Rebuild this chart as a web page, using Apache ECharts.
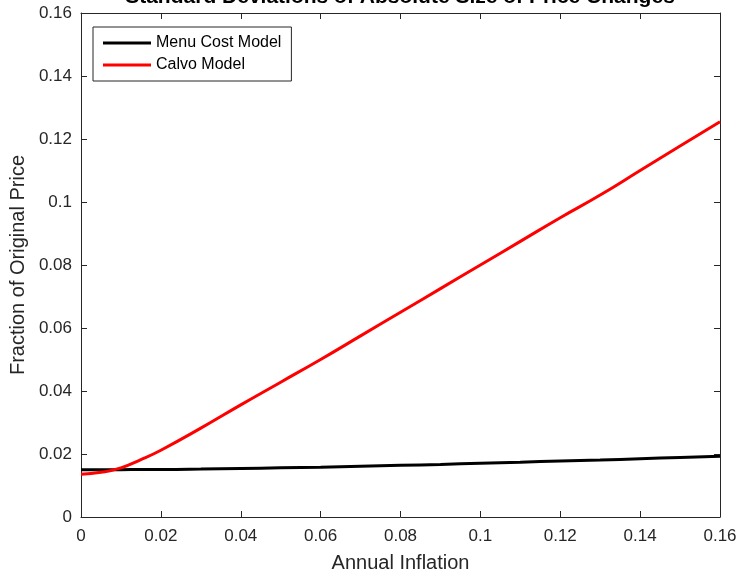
<!DOCTYPE html>
<html><head><meta charset="utf-8">
<script src="https://cdn.jsdelivr.net/npm/echarts@6/dist/echarts.min.js"></script>
<style>html,body{margin:0;padding:0;background:#fff}#c{width:741px;height:578px}</style>
</head><body><div id="c"></div>
<script>
const inflation = [0, 0.005, 0.01, 0.015, 0.02, 0.03, 0.04, 0.05, 0.06, 0.07, 0.08, 0.09, 0.1, 0.11, 0.12, 0.13, 0.14, 0.15, 0.16];
const menuCost = [0.0150, 0.0150, 0.0150, 0.0151, 0.0151, 0.0152, 0.0154, 0.0156, 0.0158, 0.0161, 0.0164, 0.0167, 0.0171, 0.0174, 0.0178, 0.0181, 0.0185, 0.0189, 0.0193];
const calvo = [0.0136, 0.0142, 0.0156, 0.0182, 0.0212, 0.0282, 0.0356, 0.0428, 0.0500, 0.0575, 0.0650, 0.0725, 0.0800, 0.0875, 0.0950, 0.1022, 0.1100, 0.1178, 0.1255];
const seriesNames = ['Menu Cost Model', 'Calvo Model'];
const titleText = 'Standard Deviations of Absolute Size of Price Changes';

const fmt = v => String(parseFloat(v.toFixed(4)));
const txt = '#262626';
const FF = 'Liberation Sans';
const axisBase = {
  type: 'value', min: 0, max: 0.16, interval: 0.02,
  axisLine: { show: true, onZero: false, lineStyle: { color: '#262626', width: 1 } },
  axisTick: { show: true, inside: true, length: 6, lineStyle: { color: '#262626' } },
  splitLine: { show: false }
};
const chart = echarts.init(document.getElementById('c'));
chart.setOption({
  animation: false,
  backgroundColor: '#fff',
  graphic: [{
    type: 'text', x: 400, y: 8, z: 10,
    style: { text: titleText, textAlign: 'center', textVerticalAlign: 'bottom', verticalAlign: 'bottom', align: 'center',
      font: 'bold 21px "Liberation Sans"', fill: '#000' }
  }],
  grid: { left: 80, right: 21, top: 13, bottom: 59, containLabel: false },
  legend: {
    orient: 'vertical', left: 93, top: 27, itemWidth: 48, itemHeight: 3, itemGap: 6,
    padding: [8, 10, 8, 10], borderColor: '#262626', borderWidth: 1, backgroundColor: '#fff',
    textStyle: { fontFamily: FF, fontSize: 16, color: '#000' },
    data: seriesNames.map(n => ({ name: n, icon: 'rect' }))
  },
  xAxis: [
    Object.assign({}, axisBase, { position: 'bottom', name: 'Annual Inflation', nameLocation: 'middle', nameGap: 36,
      nameTextStyle: { fontFamily: FF, fontSize: 20, color: txt },
      axisLabel: { formatter: fmt, fontFamily: FF, fontSize: 17, color: txt, margin: 11 } }),
    Object.assign({}, axisBase, { position: 'top', axisLabel: { show: false } })
  ],
  yAxis: [
    Object.assign({}, axisBase, { position: 'left', name: 'Fraction of Original Price', nameLocation: 'middle', nameGap: 53,
      nameTextStyle: { fontFamily: FF, fontSize: 20, color: txt },
      axisLabel: { formatter: fmt, fontFamily: FF, fontSize: 17, color: txt, margin: 9 } }),
    Object.assign({}, axisBase, { position: 'right', axisLabel: { show: false } })
  ],
  series: [
    { name: seriesNames[0], type: 'line', symbol: 'none', smooth: true, data: inflation.map((x, i) => [x, menuCost[i]]),
      lineStyle: { color: '#000', width: 3 }, itemStyle: { color: '#000' } },
    { name: seriesNames[1], type: 'line', symbol: 'none', smooth: true, data: inflation.map((x, i) => [x, calvo[i]]),
      lineStyle: { color: '#ff0000', width: 3 }, itemStyle: { color: '#ff0000' } }
  ]
});
</script></body></html>
